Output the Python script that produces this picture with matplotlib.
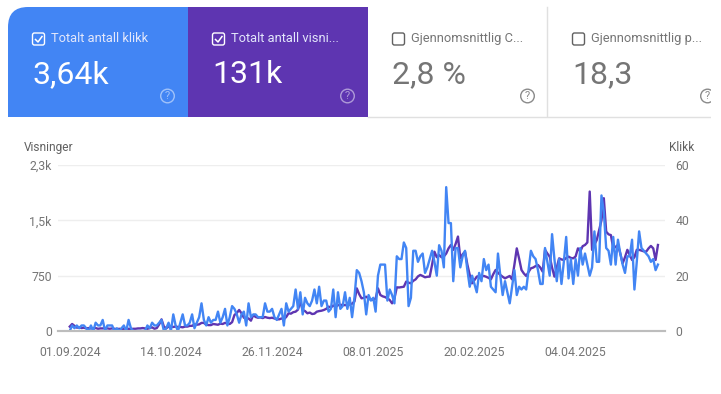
import matplotlib
matplotlib.use("Agg")
import matplotlib.pyplot as plt
import pandas as pd
from matplotlib.patches import Circle, FancyBboxPatch, PathPatch, Rectangle
from matplotlib.path import Path

plt.rcParams['font.family'] = ['Roboto', 'DejaVu Sans']

# daily clicks
klikk = [
    0, 2, 1, 2, 1, 2, 2, 1, 0, 2,
    0, 3, 2, 2, 4, 0, 2, 2, 2, 0,
    1, 0, 1, 2, 0, 4, 1, 0, 0, 0,
    0, 0, 0, 2, 1, 3, 2, 2, 3, 4,
    0, 1, 3, 0, 6, 2, 0, 3, 6, 2,
    2, 3, 6, 1, 3, 5, 10, 4, 2, 5,
    3, 4, 4, 7, 3, 5, 8, 2, 5, 9,
    8, 6, 3, 6, 7, 2, 10, 5, 6, 6,
    5, 5, 5, 10, 7, 7, 8, 5, 4, 6,
    8, 2, 10, 7, 8, 9, 15, 8, 14, 6,
    12, 10, 9, 11, 15, 10, 16, 9, 11, 11,
    7, 8, 15, 5, 14, 8, 9, 14, 8, 12,
    5, 12, 22, 21, 18, 14, 6, 13, 11, 12,
    7, 20, 24, 24, 24, 11, 15, 13, 10, 27,
    26, 26, 32, 30, 9, 12, 29, 29, 25, 27,
    28, 21, 23, 26, 29, 25, 20, 31, 29, 23,
    52, 39, 39, 18, 30, 30, 23, 27, 29, 22,
    16, 20, 17, 14, 21, 18, 26, 22, 24, 16,
    15, 14, 28, 20, 13, 18, 14, 10, 16, 22,
    13, 16, 15, 16, 15, 22, 29, 27, 26, 22,
    17, 17, 30, 25, 20, 35, 26, 18, 26, 17,
    25, 34, 19, 26, 17, 26, 20, 30, 24, 28,
    24, 20, 23, 36, 25, 25, 49, 43, 30, 29,
    24, 34, 24, 33, 28, 24, 21, 27, 27, 33,
    15, 25, 36, 30, 29, 28, 27, 25, 26, 22, 24,
]

# daily impressions
visninger = [
    60, 95, 70, 45, 50, 40, 45, 35, 40, 35,
    35, 40, 30, 35, 35, 40, 35, 30, 35, 30,
    25, 30, 25, 30, 25, 30, 27, 30, 30, 35,
    35, 40, 35, 30, 40, 50, 30, 40, 90, 158,
    60, 36, 60, 55, 55, 60, 55, 55, 50, 60,
    60, 70, 70, 90, 85, 90, 110, 110, 85, 80,
    80, 95, 90, 85, 100, 95, 110, 100, 95, 120,
    217, 245, 285, 240, 180, 175, 170, 140, 217, 190,
    180, 185, 175, 190, 180, 175, 180, 170, 160, 158,
    170, 160, 190, 240, 235, 255, 262, 290, 400, 285,
    270, 240, 250, 230, 235, 262, 270, 275, 285, 300,
    330, 320, 345, 330, 350, 352, 355, 350, 355, 360,
    370, 400, 578, 500, 443, 450, 465, 440, 425, 420,
    440, 578, 488, 470, 460, 443, 420, 375, 440, 592,
    590, 595, 600, 670, 655, 646, 680, 700, 740, 760,
    745, 728, 735, 737, 900, 1075, 1000, 1030, 1000, 1010,
    1050, 1120, 1166, 1100, 1180, 1280, 985, 1040, 1075, 900,
    760, 646, 690, 737, 745, 740, 746, 735, 720, 700,
    770, 827, 790, 760, 735, 714, 730, 746, 700, 900,
    1120, 980, 827, 780, 746, 800, 850, 860, 880, 895,
    860, 805, 1100, 1050, 1008, 860, 737, 860, 985, 970,
    963, 990, 1008, 990, 985, 1010, 1120, 1080, 1150, 1166,
    1200, 1890, 1100, 1170, 1234, 1370, 1500, 1800, 1347, 1310,
    1300, 1120, 1140, 1166, 1050, 918, 1000, 1100, 1030, 963,
    1000, 1100, 1100, 1090, 1080, 1075, 1120, 1153, 1120, 963, 1166,
]

start_dato = "2024-09-01"
dato_ticks = ["2024-09-01", "2024-10-14", "2024-11-26", "2025-01-08", "2025-02-20", "2025-04-04"]
dato_labels = ["01.09.2024", "14.10.2024", "26.11.2024", "08.01.2025", "20.02.2025", "04.04.2025"]

vis_ticks = [0, 750, 1500, 2250]
vis_labels = ["0", "750", "1,5k", "2,3k"]
klikk_ticks = [0, 20, 40, 60]

kort_titler = ["Totalt antall klikk", "Totalt antall visni...", "Gjennomsnittlig C...", "Gjennomsnittlig p..."]
kort_verdier = ["3,64k", "131k", "2,8 %", "18,3"]
kort_valgt = [True, True, False, False]

BLA = "#4285f4"
LILLA = "#5e35b1"
GRA = "#757575"
W, H = 721, 394

fig = plt.figure(figsize=(W / 100, H / 100), dpi=100, facecolor="white")

# overlay in pixel coords for the cards
bg = fig.add_axes([0, 0, 1, 1])
bg.set_xlim(0, W)
bg.set_ylim(H, 0)
bg.axis("off")

# blue card, rounded top left
r = 20
blue_path = Path(
    [(8, 117), (8, 7 + r), (8, 7), (8 + r, 7), (188, 7), (188, 117), (8, 117)],
    [Path.MOVETO, Path.LINETO, Path.CURVE3, Path.CURVE3, Path.LINETO, Path.LINETO, Path.CLOSEPOLY],
)
bg.add_patch(PathPatch(blue_path, fc=BLA, ec="none"))
bg.add_patch(Rectangle((188, 7), 180, 110, fc=LILLA, ec="none"))
bg.plot([368, 711], [116.5, 116.5], color="#e0e0e0", lw=1)
bg.plot([547, 547], [7, 116], color="#e0e0e0", lw=1)

for i in range(4):
    x0 = 8 + i * 180
    valgt = kort_valgt[i]
    farge = "white" if valgt else "#616161"
    tekst = "#e3e7fb" if valgt else GRA
    bg.add_patch(FancyBboxPatch((x0 + 24.5, 33), 12, 12, boxstyle="round,pad=0,rounding_size=2",
                                fc="none", ec=farge, lw=1))
    if valgt:
        bg.plot([x0 + 27.5, x0 + 30, x0 + 34], [39.5, 42, 36.5], color="white", lw=1.1)
    bg.text(x0 + 43, 38.5, kort_titler[i], color=tekst, fontsize=9.3, va="center", ha="left")
    bg.text(x0 + 24, 74.5, kort_verdier[i], color="white" if valgt else GRA, fontsize=23, va="center", ha="left")
    qc = "#ffffff" if valgt else "#8a8a8a"
    a = 0.5 if valgt else 1
    bg.add_patch(Circle((x0 + 159.5, 96), 6.8, fc="none", ec=qc, lw=1, alpha=a))
    bg.text(x0 + 159.5, 96.3, "?", color=qc, alpha=a, fontsize=8, va="center", ha="center")

bg.add_patch(Rectangle((711, 0), 10, 125, fc="white", ec="none", zorder=5))

# the chart: 58..665 px wide, 165..331 px high
ax = fig.add_axes([58 / W, 1 - 331 / H, (665 - 58) / W, (331 - 165) / H])
ax.patch.set_alpha(0)
ax2 = ax.twinx()
ax2.patch.set_alpha(0)

dager = pd.date_range(start_dato, periods=len(klikk), freq="D")
ax.plot(dager, visninger, color=LILLA, lw=1.7, solid_joinstyle="round")
ax2.plot(dager, klikk, color=BLA, lw=1.7, solid_joinstyle="round")

ax.set_xlim(pd.Timestamp("2024-08-27"), pd.Timestamp("2025-05-12"))
ax.set_ylim(0, 2250)
ax2.set_ylim(0, 60)

ax.set_yticks(vis_ticks)
ax.set_yticklabels(vis_labels)
ax2.set_yticks(klikk_ticks)
ax.set_xticks(pd.to_datetime(dato_ticks))
ax.set_xticklabels(dato_labels)
ax.grid(axis="y", color="#eeeeee", lw=1)
ax.set_axisbelow(True)

for a_ in (ax, ax2):
    for s in a_.spines.values():
        s.set_visible(False)
    a_.spines["bottom"].set_visible(True)
    a_.spines["bottom"].set_color("#bdbdbd")
    a_.spines["bottom"].set_linewidth(1.5)
    a_.tick_params(length=0, labelsize=8.8, labelcolor=GRA)
ax.tick_params(axis="x", pad=11)
ax.tick_params(axis="y", pad=4.5)
ax2.tick_params(axis="y", pad=7.5)

bg.text(24, 147.5, "Visninger", color="#616161", fontsize=8.6, va="center", ha="left")
bg.text(669, 147.5, "Klikk", color="#616161", fontsize=8.6, va="center", ha="left")

fig.savefig("out.png", dpi=100)
